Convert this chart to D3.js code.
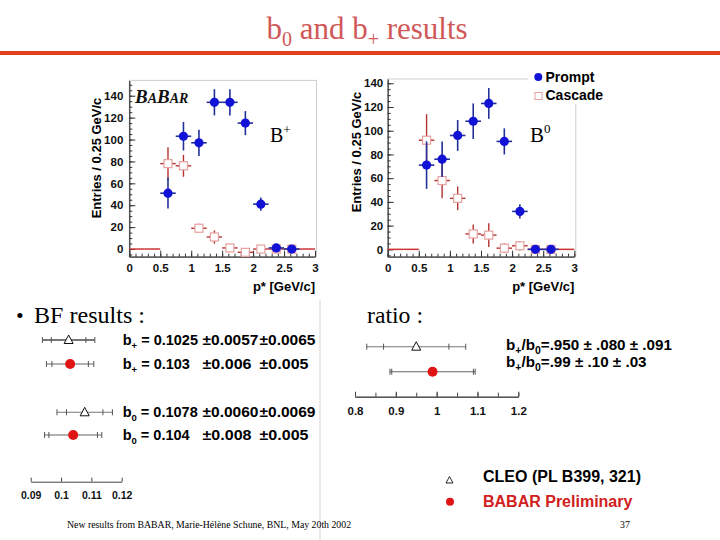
<!DOCTYPE html>
<html><head><meta charset="utf-8">
<script src="https://cdn.jsdelivr.net/npm/d3@7"></script>
<style>
html,body{margin:0;padding:0;background:#fff;}
svg{display:block;}
</style></head>
<body>
<script>
// ---------------- DATA ----------------
const binCenters = [0.125, 0.375, 0.625, 0.875, 1.125, 1.375, 1.625, 1.875, 2.125, 2.375, 2.625, 2.875];
const binHalfWidth = 0.125;
// B+ histogram (null = empty bin)
const bplusPrompt      = [null, null, 51, 103, 97, 134, 134, 115, 41, 1, 0, null];
const bplusPromptErr   = [null, null, 14, 13, 12, 12, 12, 11, 6, 2, 2, null];
const bplusCascade     = [0, 0, 78, 76, 19, 11, 1, -3, 0, 0, 0, 0];
const bplusCascadeErr  = [0, 0, 15, 10, 4, 6, 3, 3, 3, 2, 2, 0];
// B0 histogram
const bzeroPrompt      = [null, null, 71, 76, 96, 108, 123, 91, 32, 0, 0, null];
const bzeroPromptErr   = [null, null, 20, 15, 13, 15, 13, 11, 6, 2, 2, null];
const bzeroCascade     = [0, 0, 92, 58, 43, 13, 12, 1, 3, 0, 0, 0];
const bzeroCascadeErr  = [0, 0, 22, 15, 10, 8, 10, 4, 4, 2, 2, 0];
const histXTicks = [0, 0.5, 1, 1.5, 2, 2.5, 3];
const histYTicks = [0, 20, 40, 60, 80, 100, 120, 140];
const legendLabels = ["Prompt", "Cascade"];

// Branching fractions
const bfNames   = ["b", "b", "b", "b"];
const bfSubs    = ["+", "+", "0", "0"];
const bfValues  = [0.1025, 0.103, 0.1078, 0.104];
const bfStat    = [0.0057, 0.006, 0.0060, 0.008];
const bfSyst    = [0.0065, 0.005, 0.0069, 0.005];
const bfExpt    = ["CLEO", "BABAR", "CLEO", "BABAR"];
const bfValText = ["0.1025", "0.103", "0.1078", "0.104"];
const bfStatText= ["\u00b10.0057", "\u00b10.006", "\u00b10.0060", "\u00b10.008"];
const bfSystText= ["\u00b10.0065", "\u00b10.005", "\u00b10.0069", "\u00b10.005"];
const bfTicks   = [0.09, 0.1, 0.11, 0.12];

const ratioValues = [0.950, 0.99];
const ratioStat   = [0.080, 0.10];
const ratioSyst   = [0.091, 0.03];
const ratioExpt   = ["CLEO", "BABAR"];
const ratioText   = ["=.950 \u00b1 .080 \u00b1 .091", "=.99 \u00b1 .10 \u00b1 .03"];
const ratioTicks  = [0.8, 0.9, 1, 1.1, 1.2];
const ratioMinor  = [0.8, 0.85, 0.9, 0.95, 1, 1.05, 1.1, 1.15, 1.2];

// ---------------- DRAW ----------------
const W = 720, H = 540;
const svg = d3.select("body").append("svg").attr("width", W).attr("height", H)
  .style("font-family", "Arial, 'Liberation Sans', Helvetica, sans-serif");

const SERIF = "'Liberation Serif', 'Times New Roman', Times, serif";
const BLUE = "#1212d6", BLUE_ERR = "#22309a";
const RED_ERR = "#b83232", PINK = "#e6a0a0";

// Title
const title = svg.append("text").attr("x", 367).attr("y", 39).attr("text-anchor", "middle")
  .style("font-family", SERIF).style("font-size", "31px").attr("fill", "#d05858");
title.append("tspan").text("b");
title.append("tspan").attr("dy", 7).style("font-size", "20px").text("0");
title.append("tspan").attr("dy", -7).text(" and b");
title.append("tspan").attr("dy", 7).style("font-size", "20px").text("+");
title.append("tspan").attr("dy", -7).text(" results");
svg.append("rect").attr("x", 0).attr("y", 51).attr("width", W).attr("height", 4).attr("fill", "#e4401c");

// divider
svg.append("line").attr("x1", 320).attr("x2", 320).attr("y1", 300).attr("y2", 540)
  .attr("stroke", "#e2e2e2").attr("stroke-width", 1.5);

function drawHist(cfg) {
  const g = svg.append("g");
  const x = d3.scaleLinear().domain([0, 3]).range([cfg.x0, cfg.x1]);
  const y = d3.scaleLinear().domain(cfg.yDom).range([256.7, cfg.yTop]);
  g.append("rect").attr("x", x(0)).attr("y", y(cfg.yDom[1]))
    .attr("width", x(3) - x(0) + 1.5).attr("height", y(cfg.yDom[0]) - y(cfg.yDom[1]))
    .attr("fill", "none").attr("stroke", "#cfcfcf").attr("stroke-width", 1);
  g.append("g").attr("transform", `translate(0,${y(cfg.yDom[0])})`)
    .call(d3.axisBottom(x).tickValues(histXTicks).tickSize(-6).tickSizeOuter(0).tickPadding(7.5)
      .tickFormat(d => d3.format("")(d)));
  g.append("g").attr("transform", `translate(0,${y(cfg.yDom[0])})`)
    .call(d3.axisBottom(x).tickValues(d3.range(0, 30.5, 1).map(v => v / 10)).tickSize(-3).tickSizeOuter(0).tickFormat(""))
    .select(".domain").remove();
  g.append("g").attr("transform", `translate(${x(0)},0)`)
    .call(d3.axisLeft(y).tickValues(histYTicks).tickSize(-6).tickSizeOuter(0).tickPadding(cfg.yPad));
  g.append("g").attr("transform", `translate(${x(0)},0)`)
    .call(d3.axisLeft(y).tickValues(d3.range(-5, cfg.yDom[1], 5)).tickSize(-3).tickSizeOuter(0).tickFormat(""))
    .select(".domain").remove();
  g.selectAll(".domain").attr("stroke", "#333").attr("stroke-width", 1.2);
  g.selectAll(".tick line").attr("stroke", "#333");
  g.selectAll(".tick text").style("font-family", "Arial, 'Liberation Sans', sans-serif")
    .style("font-size", "11.5px").style("font-weight", "bold").attr("fill", "#111");
  g.append("text").attr("transform", `translate(${cfg.yTitleX},${cfg.yTitleY}) rotate(-90)`)
    .attr("text-anchor", "middle").style("font-size", "13px").style("font-weight", "bold")
    .text("Entries / 0.25 GeV/c");
  g.append("text").attr("x", x(3)).attr("y", 291).attr("text-anchor", "end")
    .style("font-size", "13px").style("font-weight", "bold").text("p* [GeV/c]");

  const hs = 4;
  binCenters.forEach((b, i) => {
    const v = cfg.cas[i], e = cfg.casErr[i];
    if (v === null) return;
    const cx = x(b), cy = y(v);
    if (e === 0) {
      g.append("line").attr("x1", x(b - binHalfWidth)).attr("x2", x(b + binHalfWidth))
        .attr("y1", cy).attr("y2", cy).attr("stroke", "#cc3333").attr("stroke-width", 1.5);
      return;
    }
    const lines = [
      [x(b - binHalfWidth), cy, cx - hs, cy], [cx + hs, cy, x(b + binHalfWidth), cy]
    ];
    if (y(v + e) < cy - hs) lines.push([cx, y(v + e), cx, cy - hs]);
    if (y(v - e) > cy + hs) lines.push([cx, cy + hs, cx, y(v - e)]);
    lines.forEach(l => g.append("line").attr("x1", l[0]).attr("y1", l[1]).attr("x2", l[2]).attr("y2", l[3])
      .attr("stroke", RED_ERR).attr("stroke-width", 1.4));
    g.append("rect").attr("x", cx - hs).attr("y", cy - hs).attr("width", 2 * hs).attr("height", 2 * hs)
      .attr("fill", "#fff").attr("stroke", PINK).attr("stroke-width", 1.2);
  });
  binCenters.forEach((b, i) => {
    const v = cfg.pr[i], e = cfg.prErr[i];
    if (v === null) return;
    const cx = x(b), cy = y(v);
    g.append("line").attr("x1", cx).attr("x2", cx).attr("y1", y(v + e)).attr("y2", y(v - e))
      .attr("stroke", BLUE_ERR).attr("stroke-width", 1.6);
    g.append("line").attr("x1", x(b - binHalfWidth)).attr("x2", x(b + binHalfWidth)).attr("y1", cy).attr("y2", cy)
      .attr("stroke", BLUE_ERR).attr("stroke-width", 1.6);
    g.append("circle").attr("cx", cx).attr("cy", cy).attr("r", 4.6).attr("fill", BLUE);
  });
  return {g, x, y};
}

drawHist({x0: 129.3, x1: 315, yDom: [-7, 154], yTop: 80.4, yPad: 6,
  yTitleX: 101, yTitleY: 158, pr: bplusPrompt, prErr: bplusPromptErr, cas: bplusCascade, casErr: bplusCascadeErr});
drawHist({x0: 387.7, x1: 574.3, yDom: [-6.2, 143.6], yTop: 79, yPad: 4.5,
  yTitleX: 361, yTitleY: 152, pr: bzeroPrompt, prErr: bzeroPromptErr, cas: bzeroCascade, casErr: bzeroCascadeErr});

// BABAR logo
const logo = svg.append("text").attr("x", 135).attr("y", 103)
  .style("font-family", SERIF).style("font-style", "italic").style("font-weight", "bold").style("font-size", "19px").attr("fill", "#111");
logo.append("tspan").text("B");
logo.append("tspan").style("font-size", "14px").text("A");
logo.append("tspan").text("B");
logo.append("tspan").style("font-size", "14px").text("AR");

// B+ / B0 labels
const lb = svg.append("text").attr("x", 270).attr("y", 141.5).style("font-family", SERIF).style("font-size", "20px");
lb.append("tspan").text("B");
lb.append("tspan").attr("dy", -8).style("font-size", "13px").text("+");
const rb = svg.append("text").attr("x", 530).attr("y", 141.5).style("font-family", SERIF).style("font-size", "21px");
rb.append("tspan").text("B");
rb.append("tspan").attr("dy", -9).style("font-size", "13px").text("0");

// legend
const lg = svg.append("g");
lg.append("rect").attr("x", 528).attr("y", 66).attr("width", 92).attr("height", 38).attr("fill", "#fff");
lg.append("circle").attr("cx", 538.3).attr("cy", 77).attr("r", 4).attr("fill", BLUE);
lg.append("rect").attr("x", 535).attr("y", 92.5).attr("width", 7).attr("height", 7)
  .attr("fill", "#fff").attr("stroke", PINK).attr("stroke-width", 1);
lg.selectAll("text.lt").data(legendLabels).join("text").attr("class", "lt")
  .attr("x", 545.5).attr("y", (d, i) => 82 + i * 17.5)
  .style("font-size", "14px").style("font-weight", "bold").text(d => d);

// bullets
svg.append("text").attr("x", 16).attr("y", 323).style("font-family", SERIF).style("font-size", "22px").text("\u2022");
svg.append("text").attr("x", 34).attr("y", 323).style("font-family", SERIF).style("font-size", "23px")
  .attr("textLength", 111).attr("lengthAdjust", "spacingAndGlyphs").text("BF results :");
svg.append("text").attr("x", 367).attr("y", 323).style("font-family", SERIF).style("font-size", "23px")
  .attr("textLength", 56).attr("lengthAdjust", "spacingAndGlyphs").text("ratio :");

// ---- BF panel ----
const bx = d3.scaleLinear().domain([0.09, 0.12]).range([30.7, 121.7]);
const bfRowY = [340, 364, 412.3, 435];
const bfG = svg.append("g");
bfG.append("g").attr("transform", "translate(0,481.7)")
  .call(d3.axisBottom(bx).tickValues(bfTicks).tickSize(-4).tickSizeOuter(0).tickPadding(10)
    .tickFormat(d => d3.format("")(d)));
bfG.selectAll(".domain, .tick line").attr("stroke", "#444");
bfG.selectAll(".tick text").style("font-size", "10.5px").style("font-weight", "bold").attr("fill", "#111");

function errRow(g, sc, y, v, st, sy, expt, col) {
  const tot = Math.sqrt(st * st + sy * sy);
  const isCleo = expt === "CLEO";
  const stroke = isCleo ? "#777" : "#666";
  g.append("line").attr("x1", sc(v - tot)).attr("x2", sc(v + tot)).attr("y1", y).attr("y2", y)
    .attr("stroke", stroke).attr("stroke-width", col === 0 ? 2 : 1.1);
  [v - tot, v + tot, v - st, v + st].forEach(t =>
    g.append("line").attr("x1", sc(t)).attr("x2", sc(t)).attr("y1", y - 3).attr("y2", y + 3)
      .attr("stroke", "#555").attr("stroke-width", 1));
  if (isCleo) {
    const cx = sc(v), s = 4.5;
    g.append("path").attr("d", `M${cx - s},${y + 3.5}L${cx + s},${y + 3.5}L${cx},${y - 5}Z`)
      .attr("fill", "#fff").attr("stroke", "#111").attr("stroke-width", 1);
  } else {
    g.append("circle").attr("cx", sc(v)).attr("cy", y).attr("r", 5).attr("fill", "#e01414");
  }
}

const BF_FS = "14.5px";
bfValues.forEach((v, i) => {
  errRow(bfG, bx, bfRowY[i], v, bfStat[i], bfSyst[i], bfExpt[i], i);
  const t = bfG.append("text").attr("x", 122.7).attr("y", bfRowY[i] + 5)
    .style("font-size", BF_FS).style("font-weight", "bold");
  t.append("tspan").text(bfNames[i]);
  t.append("tspan").attr("dy", 3.5).style("font-size", "9.5px").text(bfSubs[i]);
  t.append("tspan").attr("dy", -3.5).text(" = " + bfValText[i]);
  bfG.append("text").attr("x", 202.5).attr("y", bfRowY[i] + 5).style("font-size", BF_FS).style("font-weight", "bold")
    .attr("textLength", bfStatText[i].length === 7 ? 56 : 49).attr("lengthAdjust", "spacingAndGlyphs").text(bfStatText[i]);
  bfG.append("text").attr("x", 259.5).attr("y", bfRowY[i] + 5).style("font-size", BF_FS).style("font-weight", "bold")
    .attr("textLength", bfSystText[i].length === 7 ? 56 : 49).attr("lengthAdjust", "spacingAndGlyphs").text(bfSystText[i]);
});

// ---- ratio panel ----
const rx = d3.scaleLinear().domain([0.8, 1.2]).range([355, 518.3]);
const rG = svg.append("g");
rG.append("g").attr("transform", "translate(0,396.7)")
  .call(d3.axisBottom(rx).tickValues(ratioMinor).tickSize(-4).tickSizeOuter(0).tickFormat(""));
rG.append("g").attr("transform", "translate(0,396.7)")
  .call(d3.axisBottom(rx).tickValues(ratioTicks).tickSize(-5).tickSizeOuter(0).tickPadding(10)
    .tickFormat(d => d3.format("")(d)));
rG.selectAll(".domain, .tick line").attr("stroke", "#444");
rG.selectAll(".tick text").style("font-size", "11.5px").style("font-weight", "bold").attr("fill", "#111");
const ratioRowY = [346.7, 371.7];
ratioValues.forEach((v, i) => {
  errRow(rG, rx, ratioRowY[i], v, ratioStat[i], ratioSyst[i], ratioExpt[i], 1);
  const t = rG.append("text").attr("x", 506).attr("y", 350 + i * 17).style("font-size", "15.2px").style("font-weight", "bold");
  t.append("tspan").text("b");
  t.append("tspan").attr("dy", 3.5).style("font-size", "10.5px").text("+");
  t.append("tspan").attr("dy", -3.5).text("/b");
  t.append("tspan").attr("dy", 3.5).style("font-size", "10.5px").text("0");
  t.append("tspan").attr("dy", -3.5).text(ratioText[i]);
});

// ---- bottom legend ----
const bl = svg.append("g");
bl.append("path").attr("d", "M446,483L453,483L449.5,476.5Z").attr("fill", "#fff").attr("stroke", "#111").attr("stroke-width", 0.9);
bl.append("circle").attr("cx", 450).attr("cy", 501.7).attr("r", 4).attr("fill", "#e01414");
bl.append("text").attr("x", 483).attr("y", 482).style("font-size", "16px").style("font-weight", "bold").text("CLEO (PL B399, 321)");
bl.append("text").attr("x", 483).attr("y", 507).style("font-size", "16px").style("font-weight", "bold").attr("fill", "#d02020").text("BABAR Preliminary");

// footer
svg.append("text").attr("x", 67).attr("y", 528).style("font-family", SERIF).style("font-size", "9.8px")
  .text("New results from BABAR, Marie-H\u00e9l\u00e8ne  Schune, BNL, May 20th 2002");
svg.append("text").attr("x", 620).attr("y", 528).style("font-family", SERIF).style("font-size", "9.8px").text("37");
</script>
</body></html>
